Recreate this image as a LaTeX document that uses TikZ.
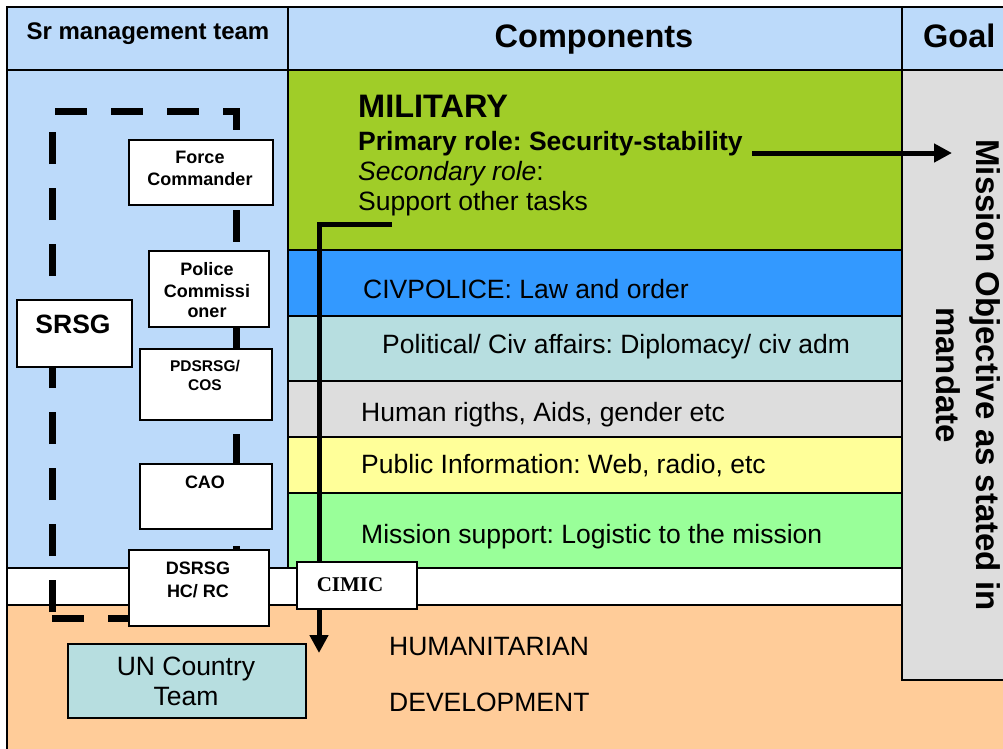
\documentclass[tikz,border=0pt]{standalone}
\usepackage{fontspec}
\setmainfont{Liberation Sans}
\newfontfamily\cimicfont{Liberation Serif}
\usetikzlibrary{arrows.meta}
\frenchspacing
\definecolor{panelblue}{RGB}{188,218,250}
\definecolor{milgreen}{RGB}{160,205,40}
\definecolor{civblue}{RGB}{51,153,255}
\definecolor{polteal}{RGB}{183,222,224}
\definecolor{hrgray}{RGB}{221,221,221}
\definecolor{piyellow}{RGB}{255,255,153}
\definecolor{msgreen}{RGB}{153,255,153}
\definecolor{humorange}{RGB}{255,204,153}
\definecolor{goalgray}{RGB}{221,221,221}
\newcommand{\setfs}[2]{\fontsize{#1}{#2}\selectfont}
\begin{document}
\frenchspacing
\begin{tikzpicture}[x=1pt,y=-1pt,
  frame/.style={draw=black,line width=1.6pt},
  box/.style={draw=black,line width=1.5pt,fill=white,inner sep=0pt,anchor=north west},
  txt/.style={inner sep=0pt},
  boxtxt/.style={txt,anchor=base,font=\bfseries\setfs{18}{21}},
  comptxt/.style={txt,anchor=base west,font=\setfs{26.5}{30}},
  dashline/.style={line width=7pt,dash pattern=on 32pt off 24pt},
  arrowline/.style={line width=5pt,-{Triangle[length=18pt,width=18pt]}}]
\useasboundingbox (0,0) rectangle (1003,748);
\clip (0,0) rectangle (1003,748);
\fill[white] (0,0) rectangle (1003,748);
% header
\filldraw[fill=panelblue,frame] (7,7) rectangle (1012,70);
\draw[frame] (288,7) -- (288,70);
\draw[frame] (902,7) -- (902,70);
% left panel
\filldraw[fill=panelblue,frame] (7,70) rectangle (288,568);
% white strip and orange band
\filldraw[fill=white,frame] (7,568) rectangle (902,605);
\filldraw[fill=humorange,frame] (7,605) rectangle (1012,760);
% component rows
\filldraw[fill=milgreen,frame] (288,70) rectangle (902,250);
\filldraw[fill=civblue,frame] (288,250) rectangle (902,316);
\filldraw[fill=polteal,frame] (288,316) rectangle (902,381);
\filldraw[fill=hrgray,frame] (288,381) rectangle (902,437);
\filldraw[fill=piyellow,frame] (288,437) rectangle (902,493);
\filldraw[fill=msgreen,frame] (288,493) rectangle (902,568);
% goal column
\filldraw[fill=goalgray,frame] (902,70) rectangle (1012,680);
% dashed grouping frame
\draw[dashline,dash phase=53pt] (52,111) -- (236,111) -- (236,618) -- (52,618);
\draw[dashline] (52,612) -- (52,111);
% support arrow (behind CIMIC)
\coordinate (supStart) at (392,224);
\coordinate (supEnd) at (319,653);
\draw[arrowline] (supStart) -| (supEnd);
% boxes
\node[box,minimum width=144pt,minimum height=65pt] (fc) at (128,139) {};
\node[box,minimum width=120pt,minimum height=76pt] (pc) at (148,250) {};
\node[box,minimum width=115pt,minimum height=67pt] (srsg) at (16,299) {};
\node[box,minimum width=132pt,minimum height=71pt] (pd) at (139,348) {};
\node[box,minimum width=132pt,minimum height=65pt] (cao) at (139,463) {};
\node[box,minimum width=140pt,minimum height=76pt] (ds) at (128,549) {};
\node[box,minimum width=120pt,minimum height=47pt] (cimic) at (296,561) {};
\node[box,fill=polteal,minimum width=238pt,minimum height=74pt] (unct) at (67,643) {};
% box texts
\node[boxtxt] (fcA) at (200,163) {Force};
\node[boxtxt] (fcB) at (200,185) {Commander};
\node[boxtxt] (pcA) at (207,275) {Police};
\node[boxtxt] (pcB) at (207,297) {Commissi};
\node[boxtxt] (pcC) at (207,317) {oner};
\node[boxtxt,font=\bfseries\setfs{26.5}{30}] (srsgT) at (73,333) {SRSG};
\node[boxtxt,font=\bfseries\setfs{15.5}{19}] (pdA) at (205,371) {PDSRSG/};
\node[boxtxt,font=\bfseries\setfs{15.5}{19}] (pdB) at (205,390) {COS};
\node[boxtxt] (caoT) at (205,488) {CAO};
\node[boxtxt] (dsA) at (198,574) {DSRSG};
\node[boxtxt] (dsB) at (198,597) {HC/ RC};
\node[txt,anchor=base,font=\cimicfont\bfseries\setfs{21}{24}] (cimicT) at (350,591) {CIMIC};
\node[txt,anchor=base,font=\setfs{26.5}{30}] (unctA) at (186,675) {UN Country};
\node[txt,anchor=base,font=\setfs{26.5}{30}] (unctB) at (186,705) {Team};
% headers
\node[txt,anchor=base,font=\bfseries\setfs{24}{28}] (hdrA) at (148,39) {Sr management team};
\node[txt,anchor=base,font=\bfseries\setfs{32.5}{36}] (hdrB) at (594,47) {Components};
\node[txt,anchor=base west,font=\bfseries\setfs{32.5}{36}] (hdrC) at (923,47) {Goal};
% military
\node[txt,anchor=base west,font=\bfseries\setfs{32.5}{36}] (mil) at (358,117) {MILITARY};
\node[comptxt,font=\bfseries\setfs{26.5}{30}] (primary) at (358,150) {Primary role: Security-stability};
\node[comptxt] (secondary) at (358,180) {\textit{Secondary role}:};
\node[comptxt] (support) at (358,210) {Support other tasks};
% components
\node[comptxt] (civ) at (363,298) {CIVPOLICE: Law and order};
\node[comptxt] (pol) at (382,353) {Political/ Civ affairs: Diplomacy/ civ adm};
\node[comptxt] (hr) at (361,421) {Human rigths, Aids, gender etc};
\node[comptxt] (pi) at (361,473) {Public Information: Web, radio, etc};
\node[comptxt] (ms) at (361,543) {Mission support: Logistic to the mission};
\node[comptxt] (hum) at (389,655) {HUMANITARIAN};
\node[comptxt] (dev) at (389,711) {DEVELOPMENT};
% goal
\node[txt,rotate=-90,anchor=base,font=\bfseries\setfs{33}{40}] (goalA) at (976,375) {Mission Objective as stated in};
\node[txt,rotate=-90,anchor=base,font=\bfseries\setfs{33}{40}] (goalB) at (936,375) {mandate};
% security arrow
\coordinate (secStart) at (752,153);
\coordinate (secEnd) at (952,153);
\draw[arrowline] (secStart) -- (secEnd);
\end{tikzpicture}
\end{document}
